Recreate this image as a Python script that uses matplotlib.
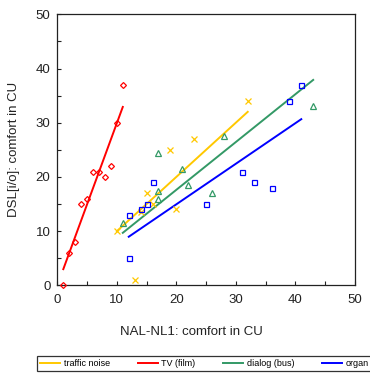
import matplotlib.pyplot as plt
import numpy as np
from matplotlib.lines import Line2D

plt.rcParams['font.family'] = ['Liberation Sans', 'DejaVu Sans']

# NAL-NL1 (x) vs DSL[i/o] (y), comfort in CU, per sound
traffic_x = [10, 13, 14, 15, 16, 19, 20, 23, 32]
traffic_y = [10, 1, 13.5, 17, 15, 25, 14, 27, 34]

tv_x = [1, 2, 3, 4, 5, 6, 7, 8, 9, 10, 11]
tv_y = [0, 6, 8, 15, 16, 21, 21, 20, 22, 30, 37]

dialog_x = [11, 17, 17, 17, 21, 22, 26, 28, 43]
dialog_y = [11.5, 24.5, 17.5, 16, 21.5, 18.5, 17, 27.5, 33]

organ_x = [12, 12, 14, 15, 16, 25, 31, 33, 36, 39, 41]
organ_y = [5, 13, 14, 15, 19, 15, 21, 19, 18, 34, 37]

labels = ['traffic noise', 'TV (film)', 'dialog (bus)', 'organ']
colors = ['#FFC800', '#FF0000', '#339966', '#0000FF']
markers = ['x', 'D', '^', 's']
msizes = [4.6, 3.0, 4.0, 3.6]

series = [(traffic_x, traffic_y), (tv_x, tv_y), (dialog_x, dialog_y), (organ_x, organ_y)]

fig = plt.figure(figsize=(3.7, 3.76), dpi=100)
ax = fig.add_axes([0.155, 0.241, 0.804, 0.721])

for (xs, ys), c, m, ms in zip(series, colors, markers, msizes):
    xs = np.array(xs, dtype=float)
    ys = np.array(ys, dtype=float)
    ax.plot(xs, ys, linestyle='none', marker=m, markersize=ms, markerfacecolor='none',
            markeredgecolor=c, markeredgewidth=0.9, clip_on=False, zorder=3)
    # regression line through the origin over the data range
    slope = np.sum(xs * ys) / np.sum(xs * xs)
    xl = np.array([xs.min(), xs.max()])
    ax.plot(xl, slope * xl, color=c, linewidth=1.4, zorder=2)

ax.set_xlim(0, 50)
ax.set_ylim(0, 50)
ax.set_xticks(np.arange(0, 51, 10))
ax.set_yticks(np.arange(0, 51, 10))
ax.set_xticks(np.arange(5, 50, 10), minor=True)
ax.set_yticks(np.arange(5, 50, 10), minor=True)
ax.tick_params(which='both', direction='in', length=3, width=0.8, top=False, right=False,
               labelsize=9.5, colors='#222222')
ax.tick_params(axis='x', pad=6)
ax.tick_params(axis='y', pad=5)
for sp in ax.spines.values():
    sp.set_linewidth(0.9)
    sp.set_color('#222222')

ax.set_xlabel('NAL-NL1: comfort in CU', fontsize=9.5, color='#222222')
ax.set_ylabel('DSL[i/o]: comfort in CU', fontsize=9.5, color='#222222')
ax.xaxis.set_label_coords(0.452, -0.15)
ax.yaxis.set_label_coords(-0.125, 0.5)

handles = [Line2D([], [], color=c, linewidth=1.4) for c in colors]
leg = fig.legend(handles, labels, ncol=4, loc='upper left',
                 bbox_to_anchor=(37 / 370, 1 - 356 / 376), borderaxespad=0,
                 fontsize=6.5, handlelength=2.2, handletextpad=0.4,
                 columnspacing=3.1, borderpad=0.35, frameon=True, fancybox=False)
leg.get_frame().set_edgecolor('black')
leg.get_frame().set_linewidth(0.9)

fig.savefig('out.png', dpi=100)
